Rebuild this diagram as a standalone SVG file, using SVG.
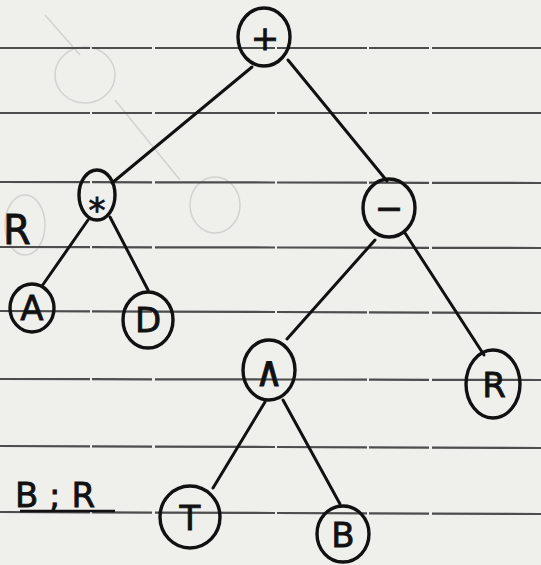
<svg xmlns="http://www.w3.org/2000/svg" width="541" height="565" viewBox="0 0 541 565">
<style>
.rule{stroke:#4d4d4d;stroke-width:2.2;stroke-dasharray:90 2 60 3 120 2;fill:none}
.node ellipse{fill:none;stroke:#111;stroke-width:3.4}
.node text,.note{font-family:"DejaVu Sans","Liberation Sans",sans-serif;fill:#111;text-anchor:middle;stroke:#111;stroke-width:0.8}
.node text{font-size:34px}
.edges line{stroke:#111;stroke-width:3;stroke-linecap:round}
.ghost{fill:none;stroke:#d2d2d0;stroke-width:1.5}
</style>
<rect width="541" height="565" fill="#efefec"/>
<g id="ghosts">
<ellipse class="ghost" cx="85" cy="75" rx="30" ry="28"/>
<ellipse class="ghost" cx="215" cy="205" rx="25" ry="28"/>
<ellipse class="ghost" cx="25" cy="225" rx="20" ry="30"/>
<line class="ghost" x1="45" y1="15" x2="80" y2="55"/>
<line class="ghost" x1="115" y1="100" x2="180" y2="180"/>
</g>
<g id="ruling">
<line class="rule" x1="0" y1="48" x2="541" y2="48"/>
<line class="rule" x1="0" y1="113" x2="541" y2="113"/>
<line class="rule" x1="0" y1="182" x2="541" y2="183"/>
<line class="rule" x1="0" y1="247" x2="541" y2="248"/>
<line class="rule" x1="0" y1="311" x2="541" y2="313"/>
<line class="rule" x1="0" y1="379" x2="541" y2="380"/>
<line class="rule" x1="0" y1="446" x2="541" y2="448"/>
<line class="rule" x1="0" y1="512" x2="541" y2="514"/>
</g>
<g id="edges" class="edges">
<line x1="252" y1="67" x2="112" y2="183"/>
<line x1="288" y1="60" x2="387" y2="181"/>
<line x1="88" y1="220" x2="42" y2="286"/>
<line x1="110" y1="217" x2="148" y2="290"/>
<line x1="375" y1="240" x2="287" y2="339"/>
<line x1="405" y1="233" x2="484" y2="355"/>
<line x1="265" y1="402" x2="213" y2="488"/>
<line x1="283" y1="400" x2="340" y2="504"/>
</g>
<g id="n-plus" class="node"><ellipse cx="264" cy="37" rx="26" ry="29"/><text x="265" y="50">+</text></g>
<g id="n-times" class="node"><ellipse cx="97" cy="195" rx="18" ry="25"/><text x="97" y="222" font-size="46">*</text></g>
<g id="n-minus" class="node"><ellipse cx="389" cy="208" rx="26" ry="29"/><text x="389" y="220">−</text></g>
<g id="n-A" class="node"><ellipse cx="32" cy="308" rx="22" ry="24"/><text x="32" y="320" font-size="32">A</text></g>
<g id="n-D" class="node"><ellipse cx="148" cy="320" rx="25" ry="28"/><text x="148" y="332">D</text></g>
<g id="n-and" class="node"><ellipse cx="269" cy="370" rx="26" ry="30"/><text x="0" y="0" font-size="34" stroke-width="0.6" transform="translate(269,386) scale(1.15,1.25)">∧</text></g>
<g id="n-R" class="node"><ellipse cx="493" cy="384" rx="27" ry="34"/><text x="494" y="397" font-size="38">R</text></g>
<g id="n-T" class="node"><ellipse cx="190" cy="517" rx="30" ry="31"/><text x="190" y="530" font-size="38">T</text></g>
<g id="n-B" class="node"><ellipse cx="343" cy="534" rx="26" ry="28"/><text x="343" y="547">B</text></g>
<g id="notes">
<text class="note" x="17" y="244" font-size="40">R</text>
<text class="note" x="55" y="507" font-size="34">B ; R</text>
<line x1="20" y1="511" x2="115" y2="511" stroke="#111" stroke-width="2.5"/>
</g>
</svg>
